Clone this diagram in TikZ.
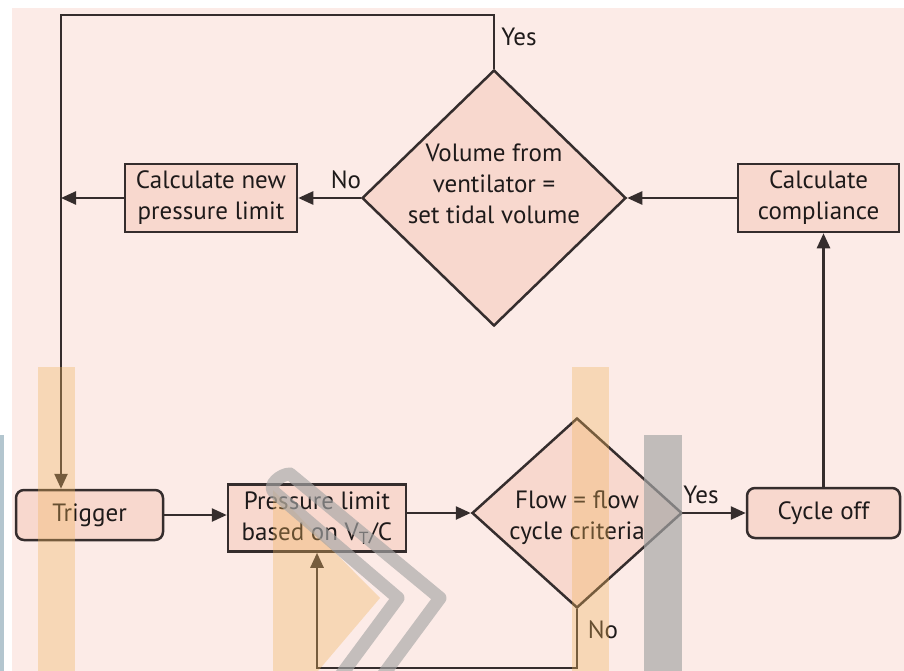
\documentclass[tikz,border=0pt]{standalone}
\usepackage{fontspec}
\setmainfont{PT Sans}
\usetikzlibrary{shapes.geometric,arrows.meta}
\definecolor{bgpink}{HTML}{FCEBE7}
\definecolor{boxfill}{HTML}{F8D8CE}
\definecolor{ink}{HTML}{352D2D}
\definecolor{txt}{HTML}{1E1A1A}
\definecolor{barorange}{HTML}{F0B45C}
\definecolor{bargray}{HTML}{A6A6A6}
\definecolor{edgeblue}{HTML}{B3C6CF}

\begin{document}
\begin{tikzpicture}[x=1pt,y=-1pt,
  font=\fontsize{25}{31}\selectfont, text=txt,
  procbox/.style={draw=ink, line width=2.5pt, fill=boxfill, inner sep=0pt, align=center},
  roundbox/.style={procbox, rounded corners=8pt},
  decision/.style={diamond, draw=ink, line width=2.5pt, fill=boxfill, inner sep=0pt},
  tag/.style={inner sep=0pt, align=center},
  flow/.style={draw=ink, line width=2.5pt, -{Triangle[length=15pt,width=13pt]}},
  stripe/.style={fill=barorange, fill opacity=0.35, draw=none},
  greystripe/.style={fill=bargray, fill opacity=0.68, draw=none},
  chev/.style={draw=bargray, draw opacity=0.65, line width=13pt, line join=round}]

\useasboundingbox (0,0) rectangle (904,671);
\fill[white] (0,0) rectangle (904,671);
\fill[bgpink] (12,8) rectangle (904,671);

% upper row
\node[decision, minimum width=264pt, minimum height=256pt] (vol) at (494,198) {};
\node[tag] (volt) at (494,184) {Volume from\\ventilator =\\set tidal volume};
\node[procbox, minimum width=172pt, minimum height=68pt] (calcnew) at (211,198) {Calculate new\\pressure limit};
\node[procbox, minimum width=161pt, minimum height=68pt] (comp) at (818.5,198) {Calculate\\compliance};

% lower row
\node[roundbox, minimum width=147pt, minimum height=50pt] (trig) at (89.5,515) {Trigger};
\node[procbox, minimum width=178pt, minimum height=67pt] (press) at (317,518) {Pressure limit\\based on V\textsubscript{T}/C};
\node[decision, minimum width=210pt, minimum height=190pt] (flowd) at (577,513) {};
\node[tag] (flowt) at (577,518) {Flow = flow\\cycle criteria};
\node[roundbox, minimum width=153pt, minimum height=50pt] (cyc) at (823.5,513) {Cycle off};

% loop corners
\coordinate (topR) at (494,15);
\coordinate (topL) at (61,15);
\coordinate (botR) at (577,668);
\coordinate (botL) at (317,668);

% connectors
\draw[flow] (vol.north) -- (topR) -- (topL) -- (topL |- trig.north);
\draw[flow] (vol.west) -- (calcnew.east);
\draw[flow] (calcnew.west) -- (topL |- calcnew.west);
\draw[flow] (comp.west) -- (vol.east);
\draw[flow] (cyc.north) -- (cyc.north |- comp.south);
\draw[flow] (trig.east) -- (trig.east -| press.west);
\draw[flow] (press.east |- flowd.west) -- (flowd.west);
\draw[flow] (flowd.east) -- (cyc.west);
\draw[flow] (flowd.south) -- (botR) -- (botL) -- (press.south);

% branch labels
\node[tag] (yes1) at (519,37) {Yes};
\node[tag] (no1) at (346,180) {No};
\node[tag] (yes2) at (701,495) {Yes};
\node[tag] (no2) at (603,630) {No};

% translucent stripes laid over the chart
\fill[stripe] (38,367) rectangle (75,671);
\fill[stripe] (572,367) rectangle (609,671);
\fill[stripe] (273,490) -- (380,598) -- (318,671) -- (273,671) -- cycle;
\fill[greystripe] (644,435) rectangle (682,671);
\fill[edgeblue] (0,435) rectangle (4,671);
\draw[chev] (330,690) -- (398,598) -- (274,492) to[out=135,in=180] (290,474) -- (440,598) -- (372,690);

\end{tikzpicture}
\end{document}
